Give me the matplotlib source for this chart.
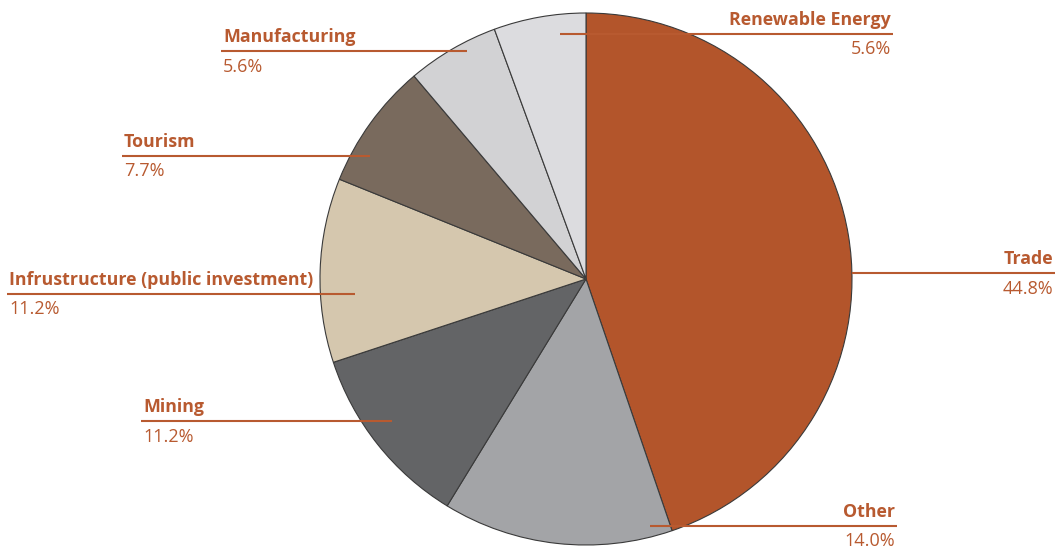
import matplotlib
matplotlib.use("Agg")
import matplotlib.pyplot as plt

# Data
categories = ["Trade", "Other", "Mining", "Infrustructure (public investment)",
              "Tourism", "Manufacturing", "Renewable Energy"]
shares = [44.8, 14.0, 11.2, 11.2, 7.7, 5.6, 5.6]
pct_labels = ["44.8%", "14.0%", "11.2%", "11.2%", "7.7%", "5.6%", "5.6%"]
colors = ["#b3552b", "#a3a4a7", "#636466", "#d5c7ae", "#796a5d", "#d2d2d4", "#dcdcdf"]

# Layout (pixel coordinates, y measured from top)
W, H = 1064, 551
center = (586, 279)
radius = 266
# leader line: (x_start, x_end, y, side)
leaders = {
    "Trade": (852, 1055, 273, "right"),
    "Other": (650, 897, 526, "right"),
    "Mining": (141, 392, 421, "left"),
    "Infrustructure (public investment)": (7, 355, 294, "left"),
    "Tourism": (122, 370, 156, "left"),
    "Manufacturing": (221, 467, 51, "left"),
    "Renewable Energy": (560, 893, 34, "right"),
}
txt_color = "#b85a30"

fig = plt.figure(figsize=(W / 100, H / 100), dpi=100)
ax = fig.add_axes([0, 0, 1, 1])

ax.pie(shares, colors=colors, startangle=90, counterclock=False,
       center=(center[0], H - center[1]), radius=radius,
       wedgeprops=dict(edgecolor="#3a3a3a", linewidth=0.8))

ax.set_xlim(0, W)
ax.set_ylim(0, H)
ax.set_aspect("equal")
ax.axis("off")

for cat, pct in zip(categories, pct_labels):
    x0, x1, y, side = leaders[cat]
    Y = H - y
    ax.plot([x0, x1], [Y, Y], color=txt_color, lw=1.5, solid_capstyle="butt", zorder=5)
    if side == "left":
        tx, ha = x0 + 2, "left"
    else:
        tx, ha = x1 - 2, "right"
    ax.text(tx, Y + 14, cat, ha=ha, va="center", fontsize=12.8, fontweight="bold",
            family="Open Sans", color=txt_color)
    ax.text(tx, Y - 15.5, pct, ha=ha, va="center", fontsize=13,
            family="Open Sans", color=txt_color)

fig.savefig("out.png", dpi=100)
